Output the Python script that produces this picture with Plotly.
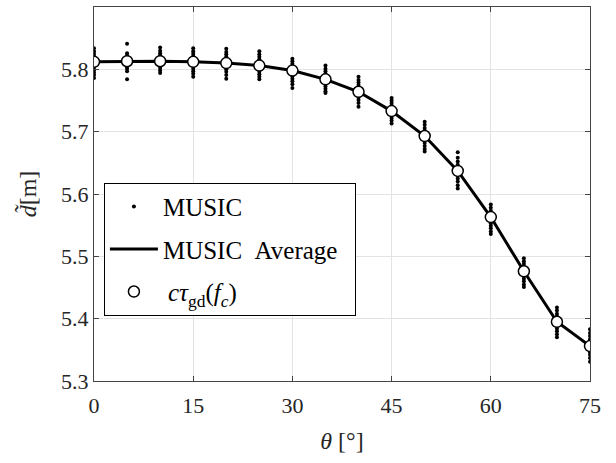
import plotly.graph_objects as go

theta = [0, 5, 10, 15, 20, 25, 30, 35, 40, 45, 50, 55, 60, 65, 70, 75]
music_avg = [5.812, 5.813, 5.813, 5.812, 5.810, 5.806, 5.798, 5.784, 5.764, 5.733,
             5.693, 5.637, 5.563, 5.476, 5.395, 5.356]
c_tau_gd = [5.812, 5.813, 5.813, 5.812, 5.810, 5.806, 5.798, 5.784, 5.764, 5.733,
            5.693, 5.637, 5.563, 5.476, 5.395, 5.356]
music_dots = [
    [5.834, 5.829, 5.825, 5.821, 5.818, 5.815, 5.812, 5.809, 5.806, 5.803, 5.799, 5.795, 5.791, 5.786],
    [5.841, 5.826, 5.822, 5.819, 5.816, 5.813, 5.810, 5.807, 5.804, 5.801, 5.797, 5.784],
    [5.835, 5.830, 5.826, 5.822, 5.818, 5.814, 5.810, 5.806, 5.802, 5.798, 5.794],
    [5.834, 5.829, 5.825, 5.821, 5.817, 5.813, 5.809, 5.805, 5.801, 5.797, 5.793, 5.788],
    [5.833, 5.828, 5.824, 5.820, 5.816, 5.812, 5.808, 5.804, 5.800, 5.796, 5.791, 5.785],
    [5.829, 5.824, 5.820, 5.816, 5.812, 5.808, 5.804, 5.800, 5.796, 5.792, 5.788, 5.784],
    [5.817, 5.813, 5.809, 5.805, 5.801, 5.797, 5.793, 5.789, 5.785, 5.781, 5.776, 5.770],
    [5.806, 5.801, 5.797, 5.793, 5.789, 5.785, 5.781, 5.777, 5.773, 5.769, 5.765, 5.762],
    [5.788, 5.783, 5.779, 5.775, 5.771, 5.767, 5.763, 5.759, 5.755, 5.751, 5.746, 5.740],
    [5.754, 5.750, 5.746, 5.742, 5.738, 5.734, 5.730, 5.726, 5.722, 5.718, 5.713],
    [5.716, 5.711, 5.706, 5.702, 5.698, 5.694, 5.690, 5.686, 5.682, 5.677, 5.672, 5.668],
    [5.667, 5.658, 5.652, 5.647, 5.642, 5.638, 5.634, 5.630, 5.625, 5.620, 5.614, 5.609],
    [5.583, 5.578, 5.573, 5.569, 5.565, 5.561, 5.557, 5.553, 5.549, 5.545, 5.540, 5.536],
    [5.497, 5.492, 5.488, 5.484, 5.480, 5.476, 5.472, 5.468, 5.464, 5.460, 5.455, 5.451],
    [5.418, 5.413, 5.408, 5.404, 5.400, 5.396, 5.392, 5.388, 5.384, 5.380, 5.375, 5.370],
    [5.383, 5.377, 5.372, 5.367, 5.362, 5.358, 5.354, 5.350, 5.346, 5.342, 5.337, 5.331],
]
x_ticks = [0, 15, 30, 45, 60, 75]
y_ticks = [5.3, 5.4, 5.5, 5.6, 5.7, 5.8, 5.9]

dot_x, dot_y = [], []
for t, vals in zip(theta, music_dots):
    for v in vals:
        dot_x.append(t)
        dot_y.append(v)

FONT = "Liberation Serif, Times New Roman, serif"

fig = go.Figure()
fig.add_trace(go.Scatter(x=dot_x, y=dot_y, mode="markers", name="MUSIC",
                         marker=dict(color="black", size=4), legendgroup="a"))
fig.add_trace(go.Scatter(x=theta, y=music_avg, mode="lines", name="MUSIC\u2002Average\u2002",
                         line=dict(color="black", width=3), legendgroup="b"))
fig.add_trace(go.Scatter(x=theta, y=c_tau_gd, mode="markers",
                         name="\u2009<i>cτ</i><sub>gd</sub>(<i>f<sub>c</sub></i>)",
                         marker=dict(color="white", size=11, line=dict(color="black", width=1.5)),
                         legendgroup="c"))

axis_common = dict(showline=True, linecolor="#444", linewidth=1, mirror="ticks",
                   ticks="inside", ticklen=5, tickcolor="#444", automargin=False,
                   showgrid=True, gridcolor="#e3e3e3", gridwidth=1, zeroline=False,
                   tickfont=dict(family=FONT, size=22, color="#262626"))

fig.update_xaxes(range=[0, 75], tickvals=x_ticks, ticklabelstandoff=5,
                 title=dict(text="<i>θ</i> [°]", font=dict(family=FONT, size=24, color="#262626"),
                            standoff=14),
                 **axis_common)
fig.update_yaxes(range=[5.3, 5.9], tickvals=y_ticks, tickformat=".1f",
                 title=dict(text="<i>d\u0303</i>[m]", font=dict(family=FONT, size=24, color="#262626"),
                            standoff=17),
                 **axis_common)

fig.update_layout(
    width=616, height=463,
    margin=dict(l=94, r=26, t=7, b=82),
    plot_bgcolor="white", paper_bgcolor="white",
    showlegend=True,
    legend=dict(x=0.02, y=0.53, xanchor="left", yanchor="top",
                bgcolor="white", bordercolor="black", borderwidth=1,
                font=dict(family=FONT, size=25, color="black"),
                tracegroupgap=7, itemwidth=48, itemsizing="trace"),
)

fig.write_html("out.html", config={"displayModeBar": False},
               post_script="document.body.style.margin='0';document.body.style.padding='0';")
